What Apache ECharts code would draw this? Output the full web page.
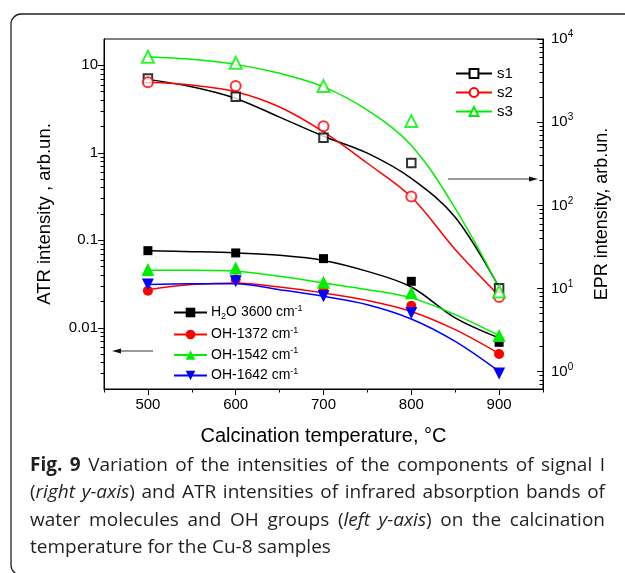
<!DOCTYPE html>
<html><head><meta charset="utf-8">
<script src="https://cdn.jsdelivr.net/npm/echarts@6/dist/echarts.min.js"></script>
<style>html,body{margin:0;padding:0;background:#fff}#c{width:625px;height:573px}</style>
</head><body><div id="c"></div>
<script>
const temps = [500, 600, 700, 800, 900];
const fitTemps = [500, 550, 600, 650, 700, 750, 800, 850, 900];
const xTickLabels = [500, 600, 700, 800, 900];
const xMinorTicks = [450, 550, 650, 750, 850, 950];
const leftTickLabels = [0.01, 0.1, 1, 10];
const leftMinorTicks = [0.003, 0.004, 0.005, 0.006, 0.007, 0.008, 0.009,
  0.02, 0.03, 0.04, 0.05, 0.06, 0.07, 0.08, 0.09,
  0.2, 0.3, 0.4, 0.5, 0.6, 0.7, 0.8, 0.9,
  2, 3, 4, 5, 6, 7, 8, 9];
const rightTickLabels = [1, 10, 100, 1000, 10000];
const rightMinorTicks = [0.7, 0.8, 0.9,
  2, 3, 4, 5, 6, 7, 8, 9,
  20, 30, 40, 50, 60, 70, 80, 90,
  200, 300, 400, 500, 600, 700, 800, 900,
  2000, 3000, 4000, 5000, 6000, 7000, 8000, 9000];

// EPR intensity (right axis): measured points and fitted curves
const s1Points = [3360, 2020, 650, 323, 10.1];
const s2Points = [3010, 2720, 895, 128, 7.9];
const s3Points = [6120, 5180, 2715, 1030, 9.2];
const s1Curve = [3270, 2660, 1930, 1150, 678, 424, 211, 72, 10.3];
const s2Curve = [3010, 2790, 2320, 1520, 764, 321, 126, 29.5, 8.2];
const s3Curve = [6120, 5690, 4955, 3865, 2660, 1396, 528, 92, 10.3];

// ATR intensity (left axis)
const h2oPoints = [0.0762, 0.0718, 0.0618, 0.0340, 0.00683];
const oh1372Points = [0.0266, 0.0356, 0.0266, 0.0179, 0.00503];
const oh1542Points = [0.0463, 0.0484, 0.0331, 0.0251, 0.0082];
const oh1642Points = [0.0312, 0.0340, 0.0229, 0.0148, 0.0030];
const h2oCurve = [0.0762, 0.0743, 0.0718, 0.0675, 0.059, 0.0442, 0.0293, 0.013, 0.00767];
const oh1372Curve = [0.0273, 0.0312, 0.0326, 0.0293, 0.0251, 0.0206, 0.0154, 0.00953, 0.00507];
const oh1542Curve = [0.0454, 0.0454, 0.0442, 0.0388, 0.0326, 0.0273, 0.0220, 0.01416, 0.00815];
const oh1642Curve = [0.0312, 0.032, 0.032, 0.0273, 0.0229, 0.0184, 0.01264, 0.00701, 0.00318];

const captionLines = [
  '{b|Fig. 9} Variation of the intensities of the components of signal I',
  '({i|right y-axis}) and ATR intensities of infrared absorption bands of',
  'water molecules and OH groups ({i|left y-axis}) on the calcination',
  'temperature for the Cu-8 samples'
];

const FONT = 'Liberation Sans, Arial, sans-serif';
const CAP_FONT = 'Open Sans';
const CAP_SIZE = 19;
const CAP_COLOR = '#231f20';
const downTri = 'path://M0,0 L10,0 L5,9 Z';

function pairs(xs, ys) { return xs.map((x, i) => [x, ys[i]]); }

function curve(name, xs, ys, color, symbol, yIdx) {
  return {
    name: name, type: 'line', xAxisIndex: 0, yAxisIndex: yIdx,
    data: pairs(xs, ys), smooth: 0.35, showSymbol: false, symbol: symbol,
    lineStyle: { color: color, width: 1.5 }, itemStyle: { color: color, borderColor: color },
    z: 2, silent: true
  };
}
function points(name, xs, ys, color, symbol, size, yIdx, hollow) {
  return {
    name: name + '_pts', type: 'scatter', xAxisIndex: 0, yAxisIndex: yIdx,
    data: pairs(xs, ys), symbol: symbol, symbolSize: size,
    itemStyle: hollow ? { color: color, borderColor: color, borderWidth: 2 } : { color: color, opacity: 1 },
    z: 5, silent: true
  };
}

// caption justification (word spacing) measured with canvas
const mctx = document.createElement('canvas').getContext('2d');
const capStyles = {
  n: { fontStyle: 'normal', fontWeight: 'normal' },
  b: { fontStyle: 'normal', fontWeight: 'bold' },
  i: { fontStyle: 'italic', fontWeight: 'normal' }
};
function measure(t, s) {
  const st = capStyles[s];
  mctx.font = st.fontStyle + ' ' + st.fontWeight + ' ' + CAP_SIZE + 'px "' + CAP_FONT + '"';
  return mctx.measureText(t).width;
}
function captionElement(src, idx, target, top) {
  const segs = []; const re = /\{(\w+)\|([^}]*)\}|([^{]+)/g; let m;
  while ((m = re.exec(src))) { if (m[1]) segs.push([m[1], m[2]]); else segs.push(['n', m[3]]); }
  const toks = [];
  segs.forEach(function (sg) {
    const parts = sg[1].split(' ');
    parts.forEach(function (p, i) { if (i > 0) toks.push({ gap: true }); if (p) toks.push({ s: sg[0], t: p }); });
  });
  let wordsW = 0, gaps = 0;
  toks.forEach(function (tk) { if (tk.gap) gaps++; else wordsW += measure(tk.t, tk.s); });
  const spaceW = measure(' ', 'n');
  const gapW = target ? Math.max(spaceW, (target - wordsW) / gaps) : spaceW;
  const text = toks.map(function (tk) { return tk.gap ? '{g| }' : '{' + tk.s + '|' + tk.t + '}'; }).join('');
  const rich = {};
  Object.keys(capStyles).forEach(function (k) {
    rich[k] = { fontStyle: capStyles[k].fontStyle, fontWeight: capStyles[k].fontWeight, fontSize: CAP_SIZE, fontFamily: CAP_FONT, fill: CAP_COLOR };
  });
  rich.g = { fontSize: CAP_SIZE, fontFamily: CAP_FONT, width: gapW, fill: CAP_COLOR };
  return { type: 'text', left: 30, top: top, z: 100, silent: true,
    style: { text: text, fontSize: CAP_SIZE, fontFamily: CAP_FONT, fill: CAP_COLOR, rich: rich } };
}

const RED = '#ff0000', GREEN = '#00ee00', BLUE = '#0000ff', BLACK = '#000000';

const legendNames = {
  'H2O 3600 cm-1': 'H{sub|2}O 3600 cm{sup|-1}',
  'OH-1372 cm-1': 'OH-1372 cm{sup|-1}',
  'OH-1542 cm-1': 'OH-1542 cm{sup|-1}',
  'OH-1642 cm-1': 'OH-1642 cm{sup|-1}'
};

const chart = echarts.init(document.getElementById('c'), null, { renderer: 'canvas' });

const graphics = [
  { type: 'rect', shape: { x: 11, y: 14, width: 700, height: 561, r: 10 },
    style: { fill: 'none', stroke: '#222', lineWidth: 1.3 }, silent: true, z: 100 },
  { type: 'line', shape: { x1: 448, y1: 179, x2: 532, y2: 179 }, style: { stroke: '#333', lineWidth: 1 }, z: 100 },
  { type: 'polygon', shape: { points: [[538, 179], [529, 176.5], [529, 181.5]] }, style: { fill: '#111' }, z: 100 },
  { type: 'line', shape: { x1: 153, y1: 351, x2: 118, y2: 351 }, style: { stroke: '#333', lineWidth: 1 }, z: 100 },
  { type: 'polygon', shape: { points: [[112, 351], [121, 348.5], [121, 353.5]] }, style: { fill: '#111' }, z: 100 }
];
captionLines.forEach(function (ln, i) {
  graphics.push(captionElement(ln, i, i < 3 ? 575 : 0, 456 + i * 27.3));
});

const option = {
  animation: false,
  backgroundColor: '#ffffff',
  grid: { left: 104, right: 82, top: 39, bottom: 184, show: true, borderColor: '#000', borderWidth: 1, outerBoundsMode: 'none', containLabel: false },
  xAxis: [
    {
      type: 'value', min: 450, max: 950, position: 'bottom',
      axisLine: { show: true, lineStyle: { color: '#000', width: 1 } },
      axisTick: { show: true, length: 6, customValues: xTickLabels, lineStyle: { color: '#000' } },
      axisLabel: { customValues: xTickLabels, fontSize: 15, color: '#000', fontFamily: FONT, margin: 8 },
      splitLine: { show: false },
      name: 'Calcination temperature, \u00B0C', nameLocation: 'middle', nameGap: 37,
      nameTextStyle: { fontSize: 20, color: '#000', fontFamily: FONT }
    },
    {
      type: 'value', min: 450, max: 950, position: 'bottom',
      axisLine: { show: false },
      axisTick: { show: true, length: 3.5, customValues: xMinorTicks, lineStyle: { color: '#000' } },
      axisLabel: { show: false }, splitLine: { show: false }
    }
  ],
  yAxis: [
    {
      type: 'log', logBase: 10, min: 0.002, max: 20, position: 'left',
      axisLine: { show: true, lineStyle: { color: '#000', width: 1 } },
      axisTick: { show: true, length: 6, customValues: leftTickLabels, lineStyle: { color: '#000' } },
      axisLabel: {
        customValues: leftTickLabels, fontSize: 15, color: '#000', fontFamily: FONT, margin: 6,
        formatter: function (v) { return v >= 1 ? String(Math.round(v)) : String(Number(v.toPrecision(1))); }
      },
      splitLine: { show: false },
      name: 'ATR intensity , arb.un.', nameLocation: 'middle', nameGap: 50, nameRotate: 90,
      nameTextStyle: { fontSize: 18.5, color: '#000', fontFamily: FONT }
    },
    {
      type: 'log', logBase: 10, min: 0.002, max: 20, position: 'left',
      axisLine: { show: false },
      axisTick: { show: true, length: 3.5, customValues: leftMinorTicks, lineStyle: { color: '#000' } },
      axisLabel: { show: false }, splitLine: { show: false }
    },
    {
      type: 'log', logBase: 10, min: 0.62, max: 10000, position: 'right',
      axisLine: { show: true, lineStyle: { color: '#000', width: 1 } },
      axisTick: { show: true, inside: true, length: 6, customValues: rightTickLabels, lineStyle: { color: '#000' } },
      axisLabel: {
        customValues: rightTickLabels, fontSize: 15, color: '#000', fontFamily: FONT, margin: 8,
        formatter: function (v) { return '10{s|' + Math.round(Math.log10(v)) + '}'; },
        rich: { s: { fontSize: 10, fontFamily: FONT, color: '#000', padding: [0, 0, 9, 0] } }
      },
      splitLine: { show: false },
      name: 'EPR intensity, arb.un.', nameLocation: 'middle', nameGap: 50, nameRotate: 90,
      nameTextStyle: { fontSize: 18, color: '#000', fontFamily: FONT }
    },
    {
      type: 'log', logBase: 10, min: 0.62, max: 10000, position: 'right',
      axisLine: { show: false },
      axisTick: { show: true, inside: true, length: 3.5, customValues: rightMinorTicks, lineStyle: { color: '#000' } },
      axisLabel: { show: false }, splitLine: { show: false }
    }
  ],
  legend: [
    {
      data: ['s1', 's2', 's3'], orient: 'vertical', left: 455, top: 66, padding: 0,
      itemWidth: 36, itemHeight: 11, itemGap: 4,
      textStyle: { fontSize: 15, color: '#000', fontFamily: FONT, padding: [0, 0, 0, 0] },
      selectedMode: false
    },
    {
      data: ['H2O 3600 cm-1', 'OH-1372 cm-1', 'OH-1542 cm-1', 'OH-1642 cm-1'],
      orient: 'vertical', left: 173, top: 304, padding: 0,
      itemWidth: 33, itemHeight: 12, itemGap: 5,
      formatter: function (n) { return legendNames[n] || n; },
      textStyle: {
        fontSize: 14, color: '#000', fontFamily: FONT, padding: [0, 0, 0, -1],
        rich: {
          sub: { fontSize: 9, fontFamily: FONT, color: '#000', padding: [8, 0, 0, 0] },
          sup: { fontSize: 9, fontFamily: FONT, color: '#000', padding: [0, 0, 8, 0] }
        }
      },
      selectedMode: false
    }
  ],
  series: [
    curve('s1', fitTemps, s1Curve, BLACK, 'emptyRect', 2),
    curve('s2', fitTemps, s2Curve, RED, 'emptyCircle', 2),
    curve('s3', fitTemps, s3Curve, GREEN, 'emptyTriangle', 2),
    curve('H2O 3600 cm-1', fitTemps, h2oCurve, BLACK, 'rect', 0),
    curve('OH-1372 cm-1', fitTemps, oh1372Curve, RED, 'circle', 0),
    curve('OH-1542 cm-1', fitTemps, oh1542Curve, GREEN, 'triangle', 0),
    curve('OH-1642 cm-1', fitTemps, oh1642Curve, BLUE, downTri, 0),
    points('s1', temps, s1Points, BLACK, 'emptyRect', 8.5, 2, true),
    points('s2', temps, s2Points, RED, 'emptyCircle', 10, 2, true),
    points('s3', temps, s3Points, GREEN, 'emptyTriangle', 12, 2, true),
    points('H2O 3600 cm-1', temps, h2oPoints, BLACK, 'rect', 9, 0, false),
    points('OH-1372 cm-1', temps, oh1372Points, RED, 'circle', 10, 0, false),
    points('OH-1542 cm-1', temps, oh1542Points, GREEN, 'triangle', 13, 0, false),
    points('OH-1642 cm-1', temps, oh1642Points, BLUE, downTri, 12, 0, false)
  ],
  graphic: graphics
};
chart.setOption(option);
</script>
</body></html>
